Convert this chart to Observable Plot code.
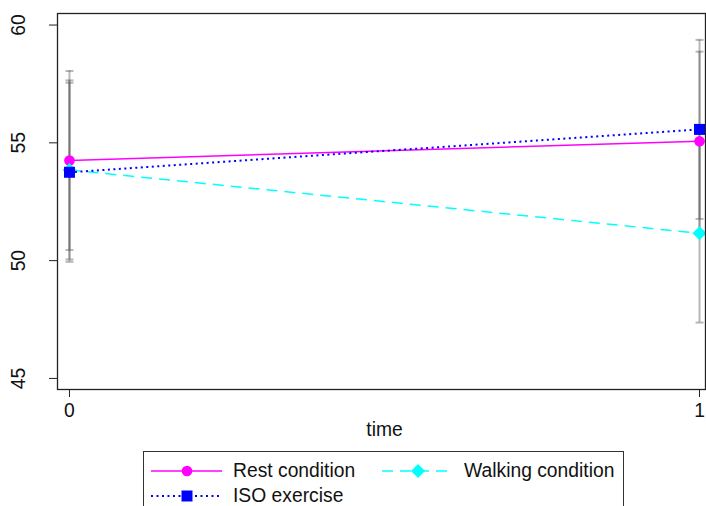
<!DOCTYPE html>
<html><head><meta charset="utf-8">
<script src="https://cdn.jsdelivr.net/npm/d3@7"></script>
<script src="https://cdn.jsdelivr.net/npm/@observablehq/plot@0.6"></script>
<style>
body{margin:0;background:#fff;overflow:hidden;font-family:"Liberation Sans",Arial,sans-serif;}
#wrap{position:relative;width:706px;height:506px;overflow:hidden;background:#fff;}
#chart{position:absolute;left:0;top:0;}
#legend{position:absolute;left:143px;top:451px;width:481px;height:80px;border:1.3px solid #333;box-sizing:border-box;
  display:grid;grid-template-columns:231px auto;grid-auto-rows:25px;padding-left:7px;padding-top:6px;}
.item{display:flex;align-items:center;font-size:19.3px;color:#111;white-space:nowrap;}
.item svg{margin-right:10px;}
</style></head><body><div id="wrap"><div id="chart"></div><div id="legend"></div></div>
<script>
// ---- data ----
const times = [0, 1];
const seriesNames = ["Rest condition", "Walking condition", "ISO exercise"];
const restMean = [54.25, 55.07];
const restLo = [50.45, 51.27];
const restHi = [58.05, 58.87];
const walkingMean = [53.85, 51.16];
const walkingLo = [50.05, 47.37];
const walkingHi = [57.65, 54.96];
const isoMean = [53.75, 55.57];
const isoLo = [49.95, 51.77];
const isoHi = [57.55, 59.37];
const yTicks = [45, 50, 55, 60];
const xTicks = [0, 1];
const xLabel = "time";

// ---- styles ----
const colors = ["#ff00ff", "#00ffff", "#0000ff"];
const symbols = ["circle", "diamond2", "square"];
const radii = [5.3, 6.3, 6.2];
const dashes = [null, "11,7", "2,3.5"];
const widths = [1.5, 1.5, 2];
const fontPx = 19.3;

const means = [restMean, walkingMean, isoMean];
const los = [restLo, walkingLo, isoLo];
const his = [restHi, walkingHi, isoHi];

const rows = [];
seriesNames.forEach((s, i) => times.forEach((t, j) => rows.push({series: s, idx: i, time: t, mean: means[i][j], lo: los[i][j], hi: his[i][j]})));

const capSymbol = {draw(ctx, size) { const w = Math.sqrt(size / Math.PI); ctx.moveTo(-w, 0); ctx.lineTo(w, 0); }};
const barStyle = {stroke: "#555", strokeOpacity: 0.42, strokeWidth: 2};

const marks = [
  Plot.ruleX(rows, {x: "time", y1: "lo", y2: "hi", ...barStyle}),
  Plot.dot(rows, {x: "time", y: "lo", symbol: capSymbol, r: 4, ...barStyle}),
  Plot.dot(rows, {x: "time", y: "hi", symbol: capSymbol, r: 4, ...barStyle}),
];
seriesNames.forEach((s, i) => {
  const d = rows.filter(r => r.idx === i);
  marks.push(Plot.line(d, {x: "time", y: "mean", stroke: colors[i], strokeWidth: widths[i], strokeDasharray: dashes[i], strokeLinecap: "butt"}));
});
seriesNames.forEach((s, i) => {
  const d = rows.filter(r => r.idx === i);
  marks.push(Plot.dot(d, {x: "time", y: "mean", symbol: symbols[i], r: radii[i], fill: colors[i], stroke: "none"}));
});
marks.push(
  Plot.axisY({ticks: yTicks, tickSize: 8, tickFormat: () => "", label: null, stroke: "#222"}),
  Plot.text(yTicks, {y: d => d, text: d => String(d), frameAnchor: "left", dx: -33, rotate: -90,
    textAnchor: "middle", lineAnchor: "bottom", fontSize: fontPx, fill: "#111"}),
  Plot.axisX({ticks: xTicks, tickSize: 8, tickPadding: 6, tickFormat: d => String(d), label: null, fontSize: fontPx, stroke: "#222"}),
  Plot.frame({stroke: "#222", strokeWidth: 1.3}),
  Plot.text([{t: xLabel, x: d3.mean(times)}], {x: "x", text: "t", frameAnchor: "bottom", dy: 46, fontSize: fontPx, fill: "#111"})
);

const chart = Plot.plot({
  width: 706, height: 446,
  marginLeft: 57, marginRight: 1, marginTop: 13, marginBottom: 57,
  x: {domain: [-0.019, 1.0095], label: null},
  y: {domain: [44.53, 60.49], label: null},
  style: {fontFamily: '"Liberation Sans", Arial, sans-serif', fontSize: fontPx + "px", color: "#111", background: "white", overflow: "visible"},
  marks
});
document.getElementById("chart").appendChild(chart);

// ---- legend ----
const legend = d3.select("#legend");
[0, 1, 2].forEach(i => {
  const it = legend.append("div").attr("class", "item");
  const svg = it.append("svg").attr("width", 72).attr("height", 20);
  svg.append("line").attr("x1", 0).attr("x2", 71).attr("y1", 10).attr("y2", 10)
    .attr("stroke", colors[i]).attr("stroke-width", widths[i]).attr("stroke-dasharray", dashes[i]);
  const sym = {circle: d3.symbolCircle, diamond2: d3.symbolDiamond2, square: d3.symbolSquare}[symbols[i]];
  svg.append("path").attr("transform", "translate(36,10)")
    .attr("d", d3.symbol(sym, radii[i] * radii[i] * Math.PI)()).attr("fill", colors[i]);
  it.append("span").text(seriesNames[i]);
});
</script></body></html>
